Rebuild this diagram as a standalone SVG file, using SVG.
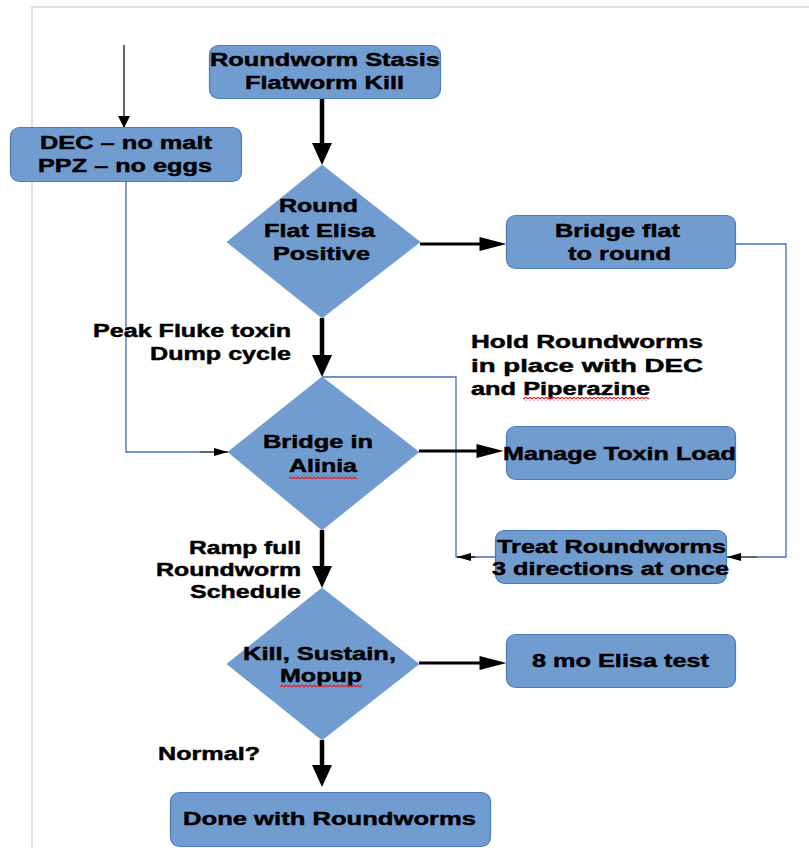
<svg xmlns="http://www.w3.org/2000/svg" width="809" height="848" viewBox="0 0 809 848">
  <style>
    .box { fill: #709cd0; stroke: #4b7bbf; stroke-width: 1.2; }
    .dia { fill: #709cd0; stroke: #6f9bcf; stroke-width: 0.8; }
    text { font-family: "Liberation Sans", Arial, sans-serif; font-weight: bold; font-size: 18px; fill: #000; stroke: #000; stroke-width: 0.45; }
    .thick { fill: none; stroke: #000; }
    .v { stroke-width: 4.5; }
    .h { stroke-width: 3; }
    .thin { fill: none; stroke: #000; stroke-width: 1.2; }
    .wire { fill: none; stroke: #3f6fc0; stroke-width: 1.3; }
    .frame { fill: none; stroke: #d6d6d6; stroke-width: 1.5; }
  </style>
  <defs>
    <marker id="av" markerUnits="userSpaceOnUse" markerWidth="22" markerHeight="22" refX="11" refY="0" viewBox="0 -11 22 22" orient="auto" overflow="visible">
      <path d="M0,-10 L22,0 L0,10 z" fill="#000"/>
    </marker>
    <marker id="ah" markerUnits="userSpaceOnUse" markerWidth="28" markerHeight="16" refX="13.5" refY="0" viewBox="0 -8 28 16" orient="auto" overflow="visible">
      <path d="M0,-7 L27,0 L0,7 z" fill="#000"/>
    </marker>
    <marker id="as" markerUnits="userSpaceOnUse" markerWidth="14" markerHeight="10" refX="14" refY="0" viewBox="0 -5 14 10" orient="auto" overflow="visible">
      <path d="M0,-4 L14,0 L0,4 z" fill="#000"/>
    </marker>
    <marker id="at" markerUnits="userSpaceOnUse" markerWidth="12" markerHeight="12" refX="12" refY="0" viewBox="0 -6 12 12" orient="auto" overflow="visible">
      <path d="M0,-6 L12,0 L0,6 z" fill="#000"/>
    </marker>
    <!-- wavy spell-check underline -->
    <pattern id="squiggle" patternUnits="userSpaceOnUse" width="4" height="4">
      <path d="M0,3 L2,1 L4,3" fill="none" stroke="#e02020" stroke-width="1.1"/>
    </pattern>
  </defs>

  <rect width="809" height="848" fill="#fff"/>
  <path class="frame" d="M32,848 V7 H809"/>

  <!-- connectors -->
  <g id="connectors">
    <path class="thin" d="M124,45 V128" marker-end="url(#at)"/>
    <path class="thick v" d="M322,98 V154" marker-end="url(#av)"/>
    <path class="thick h" d="M420,244 H493" marker-end="url(#ah)"/>
    <path class="thick v" d="M322,318 V366" marker-end="url(#av)"/>
    <path class="wire" d="M736,244 H786 V557 H757"/>
    <path class="thin" d="M757,557 H727" marker-end="url(#as)"/>
    <path class="wire" d="M322,377 H456 V557 H495"/>
    <path class="thin" d="M475,557 H457" marker-end="url(#as)"/>
    <path class="wire" d="M126,182 V452 H200"/>
    <path class="thin" d="M200,452 H228" marker-end="url(#as)"/>
    <path class="thick h" d="M419,451 H490" marker-end="url(#ah)"/>
    <path class="thick v" d="M322,530 V577" marker-end="url(#av)"/>
    <path class="thick h" d="M419,663 H493" marker-end="url(#ah)"/>
    <path class="thick v" d="M322,740 V776" marker-end="url(#av)"/>
  </g>

  <g id="stasis">
    <rect class="box" x="209.5" y="45.5" width="231" height="53" rx="9"/>
    <text x="210" y="66" textLength="230" lengthAdjust="spacingAndGlyphs">Roundworm Stasis</text>
    <text x="245" y="89" textLength="159" lengthAdjust="spacingAndGlyphs">Flatworm Kill</text>
  </g>

  <g id="dec">
    <rect class="box" x="10.5" y="127.5" width="231" height="54" rx="9"/>
    <text x="40" y="149" textLength="172" lengthAdjust="spacingAndGlyphs">DEC – no malt</text>
    <text x="38" y="172" textLength="174" lengthAdjust="spacingAndGlyphs">PPZ – no eggs</text>
  </g>

  <g id="elisa-positive">
    <polygon class="dia" points="322,165 420,242 322,318 227,242"/>
    <text x="279" y="212" textLength="79" lengthAdjust="spacingAndGlyphs">Round</text>
    <text x="264" y="237" textLength="111" lengthAdjust="spacingAndGlyphs">Flat Elisa</text>
    <text x="273" y="260" textLength="97" lengthAdjust="spacingAndGlyphs">Positive</text>
  </g>

  <g id="bridge-flat">
    <rect class="box" x="506.5" y="215.5" width="229" height="53" rx="9"/>
    <text x="555" y="237" textLength="125" lengthAdjust="spacingAndGlyphs">Bridge flat</text>
    <text x="568" y="260" textLength="103" lengthAdjust="spacingAndGlyphs">to round</text>
  </g>

  <g id="peak-label">
    <text x="93" y="337" textLength="198" lengthAdjust="spacingAndGlyphs">Peak Fluke toxin</text>
    <text x="150" y="360" textLength="141" lengthAdjust="spacingAndGlyphs">Dump cycle</text>
  </g>

  <g id="hold-label">
    <text x="471" y="348" textLength="232" lengthAdjust="spacingAndGlyphs">Hold  Roundworms</text>
    <text x="471" y="372" textLength="232" lengthAdjust="spacingAndGlyphs">in  place  with  DEC</text>
    <text x="471" y="395" textLength="179" lengthAdjust="spacingAndGlyphs">and Piperazine</text>
    <rect x="523" y="397" width="126" height="4" fill="url(#squiggle)"/>
  </g>

  <g id="alinia">
    <polygon class="dia" points="322,377 419,452 322,530 228,452"/>
    <text x="263" y="448" textLength="110" lengthAdjust="spacingAndGlyphs">Bridge in</text>
    <text x="289" y="472" textLength="68" lengthAdjust="spacingAndGlyphs">Alinia</text>
    <rect x="289" y="475" width="68" height="4" fill="url(#squiggle)"/>
  </g>

  <g id="toxin-load">
    <rect class="box" x="506.5" y="426.5" width="229" height="53" rx="9"/>
    <text x="503" y="460" textLength="233" lengthAdjust="spacingAndGlyphs">Manage Toxin Load</text>
  </g>

  <g id="treat">
    <rect class="box" x="495.5" y="530.5" width="231" height="53" rx="9"/>
    <text x="497" y="553" textLength="229" lengthAdjust="spacingAndGlyphs">Treat Roundworms</text>
    <text x="492" y="575" textLength="237" lengthAdjust="spacingAndGlyphs">3 directions at once</text>
  </g>

  <g id="ramp-label">
    <text x="189" y="554" textLength="112" lengthAdjust="spacingAndGlyphs">Ramp full</text>
    <text x="156" y="576" textLength="145" lengthAdjust="spacingAndGlyphs">Roundworm</text>
    <text x="190" y="598" textLength="111" lengthAdjust="spacingAndGlyphs">Schedule</text>
  </g>

  <g id="kill">
    <polygon class="dia" points="322,588 419,664 322,740 227,664"/>
    <text x="243" y="660" textLength="153" lengthAdjust="spacingAndGlyphs">Kill, Sustain,</text>
    <text x="280" y="682" textLength="82" lengthAdjust="spacingAndGlyphs">Mopup</text>
    <rect x="280" y="684" width="82" height="4" fill="url(#squiggle)"/>
  </g>

  <g id="elisa-test">
    <rect class="box" x="506.5" y="634.5" width="229" height="53" rx="9"/>
    <text x="532" y="667" textLength="177" lengthAdjust="spacingAndGlyphs">8 mo Elisa test</text>
  </g>

  <g id="normal-label">
    <text x="158" y="760" textLength="102" lengthAdjust="spacingAndGlyphs">Normal?</text>
  </g>

  <g id="done">
    <rect class="box" x="170.5" y="792.5" width="320" height="54" rx="9"/>
    <text x="183" y="825" textLength="293" lengthAdjust="spacingAndGlyphs">Done with Roundworms</text>
  </g>
</svg>
